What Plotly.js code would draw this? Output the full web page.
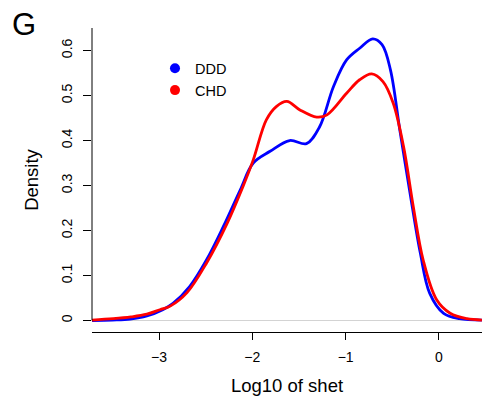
<!DOCTYPE html>
<html>
<head>
<meta charset="utf-8">
<script src="https://cdn.plot.ly/plotly-3.0.1.min.js"></script>
<style>html,body{margin:0;padding:0;background:#fff;}#chart{width:482px;height:398px;}</style>
</head>
<body>
<div id="chart"></div>
<script>
// DDD density (log10 shet)
const dddX = [-3.718, -3.50, -3.31, -3.13, -2.96, -2.85, -2.67, -2.49, -2.31, -2.13, -1.99, -1.81, -1.60, -1.42, -1.28, -1.13, -0.99, -0.85, -0.71, -0.61, -0.52, -0.42, -0.31, -0.20, -0.10, 0.05, 0.22, 0.46];
const dddY = [0.000, 0.001, 0.003, 0.010, 0.024, 0.038, 0.076, 0.135, 0.209, 0.290, 0.350, 0.376, 0.400, 0.393, 0.430, 0.520, 0.579, 0.605, 0.626, 0.613, 0.557, 0.424, 0.283, 0.150, 0.061, 0.016, 0.004, 0.001];
// CHD density
const chdX = [-3.718, -3.49, -3.30, -3.13, -2.99, -2.88, -2.70, -2.49, -2.27, -2.10, -1.99, -1.85, -1.74, -1.63, -1.49, -1.31, -1.20, -0.99, -0.85, -0.72, -0.60, -0.49, -0.38, -0.275, -0.17, -0.025, 0.12, 0.30, 0.46];
const chdY = [0.001, 0.004, 0.008, 0.014, 0.024, 0.032, 0.062, 0.128, 0.216, 0.298, 0.357, 0.446, 0.476, 0.487, 0.468, 0.452, 0.457, 0.505, 0.535, 0.548, 0.531, 0.483, 0.387, 0.253, 0.135, 0.046, 0.016, 0.004, 0.001];

const seriesNames = ['DDD', 'CHD'];
const seriesColors = ['#0000ff', '#ff0000'];
const xTicks = [-3, -2, -1, 0];
const yTicks = [0, 0.1, 0.2, 0.3, 0.4, 0.5, 0.6];
const xRange = [-3.718, 0.461];
const yRange = [-0.0255, 0.65];

const FONT = '"Liberation Sans", Arial, Helvetica, sans-serif';

const traces = [
  {x: xRange, y: [0, 0], mode: 'lines', line: {color: '#d3d3d3', width: 1}, showlegend: false, hoverinfo: 'skip'},
  {x: dddX, y: dddY, mode: 'lines', line: {color: seriesColors[0], width: 2.8, shape: 'spline', smoothing: 1}, showlegend: false},
  {x: chdX, y: chdY, mode: 'lines', line: {color: seriesColors[1], width: 2.8, shape: 'spline', smoothing: 1}, showlegend: false},
  {x: [null], y: [null], mode: 'markers', name: seriesNames[0], marker: {color: seriesColors[0], size: 10}},
  {x: [null], y: [null], mode: 'markers', name: seriesNames[1], marker: {color: seriesColors[1], size: 10}}
];

const layout = {
  width: 482, height: 398,
  margin: {l: 92, r: 0, t: 28, b: 66, pad: 0},
  paper_bgcolor: '#fff', plot_bgcolor: '#fff',
  font: {family: FONT, color: '#000', size: 14},
  showlegend: true,
  legend: {x: 0.1615, y: 0.92, xanchor: 'left', yanchor: 'top', bgcolor: 'rgba(0,0,0,0)', font: {size: 14.5}, tracegroupgap: 0, itemwidth: 30},
  xaxis: {
    range: xRange, tickmode: 'array', tickvals: xTicks,
    showline: true, linecolor: '#000', linewidth: 1,
    ticks: 'outside', ticklen: 7, tickcolor: '#000', tickwidth: 1,
    showgrid: false, zeroline: false, tickfont: {size: 14}, ticklabelstandoff: 5,
    title: {text: 'Log10 of shet', font: {size: 18.5}, standoff: 15}
  },
  yaxis: {
    range: yRange, tickmode: 'array', tickvals: yTicks,
    showline: false,
    ticks: 'outside', ticklen: 8, tickcolor: '#000', tickwidth: 1,
    showgrid: false, zeroline: false, tickangle: -90, tickfont: {size: 14}, ticklabelstandoff: 5,
    title: {text: 'Density', font: {size: 18.5}, standoff: 15}
  },
  shapes: [
    {type: 'line', xref: 'paper', x0: 0, x1: 0, yref: 'y', y0: 0, y1: 0.65, line: {color: '#000', width: 1}}
  ],
  annotations: [
    {text: 'G', xref: 'paper', yref: 'paper', x: -0.174, y: 1.01, xanchor: 'center', yanchor: 'middle', showarrow: false, font: {size: 31, color: '#000'}}
  ]
};

Plotly.newPlot('chart', traces, layout, {displayModeBar: false, staticPlot: true});
</script>
</body>
</html>
